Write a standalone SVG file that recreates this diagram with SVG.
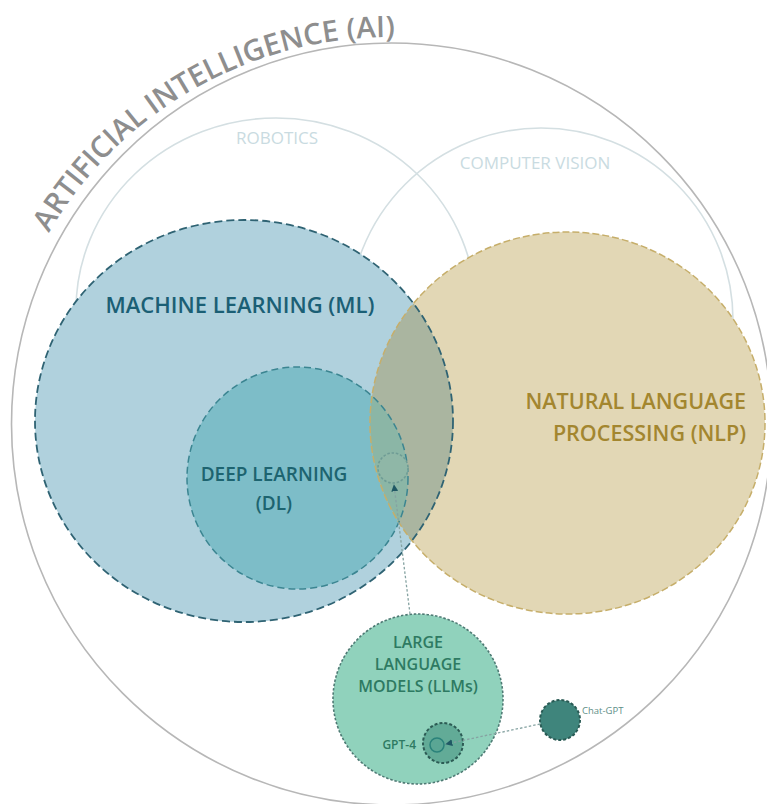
<svg xmlns="http://www.w3.org/2000/svg" width="767" height="804" viewBox="0 0 767 804">
<style>
text{font-family:"Open Sans","Liberation Sans",sans-serif}
.semi{font-weight:600}
.ai-line{fill:none;stroke:#b7b7b7;stroke-width:1.6}
.ai-text{fill:#8e8e8e;font-size:29.5px;font-weight:600}
.field{fill:none;stroke:#d4dfe2;stroke-width:1.6}
.field-label{fill:#c9dbe1;font-size:17px;text-anchor:middle}
.ml-fill{fill:#b0d1dd}
.dl-fill{fill:#7dbdc8}
.nlp-fill{fill:#e2d7b5}
.ml-stroke{fill:none;stroke:#2f6373;stroke-width:1.8;stroke-dasharray:8 4}
.dl-stroke{fill:none;stroke:#3b8591;stroke-width:1.5;stroke-dasharray:7 4}
.nlp-stroke{fill:none;stroke:#c6ae6a;stroke-width:1.5;stroke-dasharray:7 3}
.dotted{stroke:#4e7a74;stroke-width:1.6;stroke-dasharray:2.5 1.8}
.conn{fill:none;stroke:#86a3a2;stroke-width:1.3;stroke-dasharray:2.5 2}
</style>
<defs>
<clipPath id="clip-nlp"><ellipse cx="567.5" cy="423" rx="197.5" ry="191"/></clipPath>
<marker id="arrow" viewBox="0 0 10 10" refX="9" refY="5" markerWidth="7" markerHeight="7" markerUnits="userSpaceOnUse" orient="auto">
<path d="M0 0 L10 5 L0 10 Z" fill="#1f5864"/>
</marker>
<path id="ai-arc" d="M 48.8 233 A 394 387 0 0 1 459.9 42.9"/>
</defs>

<g id="ai">
<ellipse class="ai-line" cx="391.5" cy="424" rx="380" ry="381"/>
<text class="ai-text"><textPath href="#ai-arc">ARTIFICIAL</textPath></text>
<text class="ai-text"><textPath href="#ai-arc" startOffset="159">INTELLIGENCE (AI)</textPath></text>
</g>

<g id="robotics">
<ellipse class="field" cx="276" cy="310" rx="200" ry="192"/>
<text class="field-label" x="277" y="144">ROBOTICS</text>
</g>

<g id="computer-vision">
<ellipse class="field" cx="541" cy="320" rx="192" ry="192"/>
<text class="field-label" x="535" y="169">COMPUTER VISION</text>
</g>

<g id="ml">
<ellipse class="ml-fill" cx="244" cy="421" rx="209" ry="201"/>
</g>

<g id="dl">
<ellipse class="dl-fill" cx="297.5" cy="478" rx="110.5" ry="111"/>
</g>

<g id="nlp">
<ellipse class="nlp-fill" cx="567.5" cy="423" rx="197.5" ry="191"/>
</g>

<g id="overlaps" clip-path="url(#clip-nlp)">
<ellipse cx="244" cy="421" rx="209" ry="201" fill="#aab5a0"/>
<ellipse cx="297.5" cy="478" rx="110.5" ry="111" fill="#8bb6a6"/>
</g>

<g id="outlines">
<ellipse class="nlp-stroke" cx="567.5" cy="423" rx="197.5" ry="191"/>
<ellipse class="ml-stroke" cx="244" cy="421" rx="209" ry="201"/>
<ellipse class="dl-stroke" cx="297.5" cy="478" rx="110.5" ry="111"/>
</g>

<g id="labels">
<text class="semi" x="240" y="313" font-size="22" fill="#1b5f75" text-anchor="middle">MACHINE LEARNING (ML)</text>
<text class="semi" x="274" y="481" font-size="19" fill="#1d6470" text-anchor="middle">DEEP LEARNING</text>
<text class="semi" x="274" y="510" font-size="19" fill="#1d6470" text-anchor="middle">(DL)</text>
<text class="semi" x="746" y="409" font-size="21.5" fill="#a3862f" text-anchor="end">NATURAL LANGUAGE</text>
<text class="semi" x="746" y="441" font-size="21.5" fill="#a3862f" text-anchor="end">PROCESSING (NLP)</text>
</g>

<g id="llm-in-nlp">
<circle cx="393" cy="468" r="15" class="dotted" style="fill:#8fb7a7;stroke:#6f9c95"/>
</g>

<g id="llm">
<circle cx="418" cy="699" r="85" class="dotted" style="fill:#90d2bc"/>
<text class="semi" x="418" y="648" font-size="16" fill="#2e7a62" text-anchor="middle">LARGE</text>
<text class="semi" x="418" y="670" font-size="16" fill="#2e7a62" text-anchor="middle">LANGUAGE</text>
<text class="semi" x="418" y="692" font-size="16" fill="#2e7a62" text-anchor="middle">MODELS (LLMs)</text>
</g>

<g id="gpt4">
<circle cx="443" cy="743" r="20" style="fill:#62ab97;stroke:#2c5b54;stroke-width:2;stroke-dasharray:3 2"/>
<circle cx="437" cy="745" r="7" style="fill:#5aa694;stroke:#2a827a;stroke-width:1.5"/>
<text class="semi" x="416" y="749" font-size="12" fill="#2e7a62" text-anchor="end">GPT-4</text>
</g>

<g id="chatgpt">
<circle cx="560" cy="720" r="20" style="fill:#3f857c;stroke:#2a5b55;stroke-width:2;stroke-dasharray:3 2"/>
<text x="582" y="714" font-size="9.5" fill="#5e8f88">Chat-GPT</text>
</g>

<g id="connectors">
<path class="conn" d="M 410 614 L 394 485" marker-end="url(#arrow)"/>
<path class="conn" d="M 540 724 L 446 744" marker-end="url(#arrow)"/>
</g>
</svg>
